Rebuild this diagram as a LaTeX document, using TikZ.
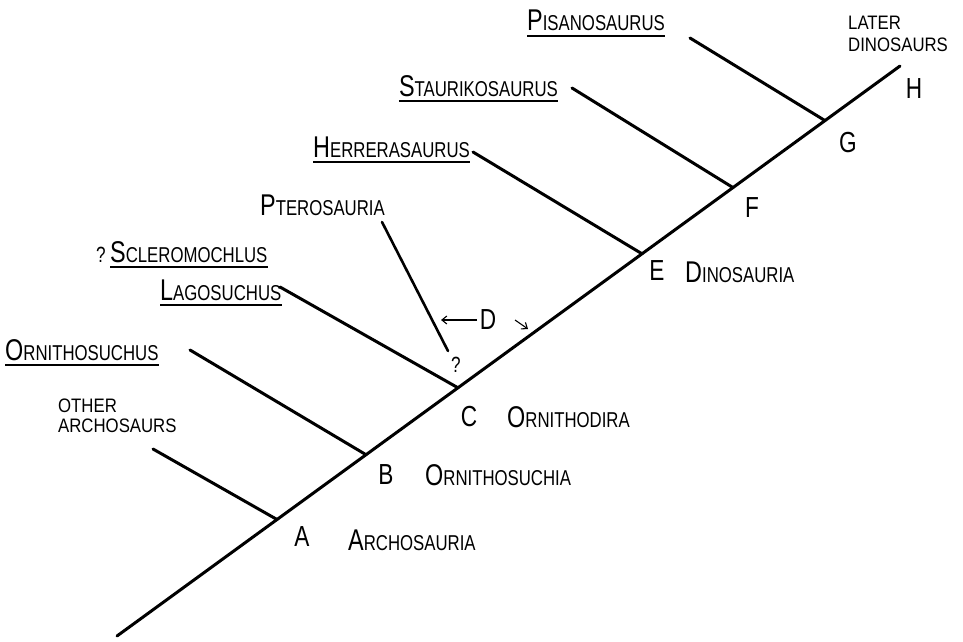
\documentclass[tikz,border=0pt]{standalone}
\usepackage{fontspec}
\setmainfont{Liberation Sans}[FakeStretch=0.78]
\newfontfamily\plainfont{Liberation Sans}[FakeStretch=0.86]
\usetikzlibrary{arrows.meta}

% small-capital lettering: large initial, smaller remainder
\newcommand\capsz[2]{{\fontsize{30}{30}\selectfont #1}{\fontsize{21.5}{21.5}\selectfont #2}}

\tikzset{
  stem/.style={line width=3pt, line cap=round},
  lbl/.style={inner sep=0pt, anchor=base west},
  lble/.style={inner sep=0pt, anchor=base east},
  plain/.style={inner sep=0pt, anchor=base west, font=\plainfont\fontsize{19.5}{19.5}\selectfont},
  letter/.style={inner sep=0pt, font=\fontsize{29}{29}\selectfont},
  ul/.style={line width=1.2pt},
  pointer/.style={line width=1.1pt, -{Straight Barb[length=5pt,width=8pt]}},
}

\begin{document}
\begin{tikzpicture}[x=1pt,y=-1pt]
\useasboundingbox (0,0) rectangle (963,642);

% main stem of the cladogram
\coordinate (root) at (117,636);
\coordinate (tip) at (900,66);
\coordinate (jA) at (277,519.5);
\coordinate (jB) at (366,454.7);
\coordinate (jC) at (458,387.8);
\coordinate (jE) at (642,253.8);
\coordinate (jF) at (733,187.6);
\coordinate (jG) at (825,120.6);
\draw[stem] (root) -- (tip);

% side branches
\coordinate (bA) at (153,449);
\coordinate (bB) at (190,350);
\coordinate (bC) at (280,287);
\coordinate (bE) at (473,152);
\coordinate (bF) at (572,88);
\coordinate (bG) at (690,38);
\draw[stem] (jA) -- (bA);
\draw[stem] (jB) -- (bB);
\draw[stem] (jC) -- (bC);
\draw[stem] (jE) -- (bE);
\draw[stem] (jF) -- (bF);
\draw[stem] (jG) -- (bG);

% Pterosauria, uncertain attachment
\coordinate (pTop) at (382,222);
\coordinate (pEnd) at (448,351);
\draw[stem, line width=2.6pt] (pTop) -- (pEnd);
\node[letter, font=\fontsize{22}{22}\selectfont] (qP) at (456,365) {?};

% node letters
\node[letter] (lA) at (302,537) {A};
\node[letter] (lB) at (386,475) {B};
\node[letter] (lC) at (469,417) {C};
\node[letter] (lE) at (657,271) {E};
\node[letter] (lF) at (752,208) {F};
\node[letter] (lG) at (848,143) {G};
\node[letter] (lH) at (914,89) {H};
\node[letter] (lD) at (488,320) {D};

% node D range marks
\coordinate (dTail) at (477,320);
\coordinate (dTip) at (441,320);
\draw[pointer] (dTail) -- (dTip);
\coordinate (sTail) at (515,320);
\coordinate (sTip) at (528,329);
\draw[pointer] (sTail) -- (sTip);

% clade names
\node[lbl] (nA) at (348,550) {\capsz{A}{RCHOSAURIA}};
\node[lbl] (nB) at (425,485) {\capsz{O}{RNITHOSUCHIA}};
\node[lbl] (nC) at (507,427) {\capsz{O}{RNITHODIRA}};
\node[lbl] (nE) at (685,282) {\capsz{D}{INOSAURIA}};

% taxa at branch tips
\node[plain] (oth1) at (58,412) {OTHER};
\node[plain] (oth2) at (58,432) {ARCHOSAURS};
\node[plain] (lat1) at (848,30) {LATER};
\node[plain] (lat2) at (848,52) {DINOSAURS};

\node[lbl] (tOrn) at (5,360) {\capsz{O}{RNITHOSUCHUS}};
\node[lbl] (tLag) at (160,300) {\capsz{L}{AGOSUCHUS}};
\node[lbl, font=\fontsize{22}{22}\selectfont] (qS) at (96,262) {?};
\node[lbl] (tScl) at (110,262) {\capsz{S}{CLEROMOCHLUS}};
\node[lble] (tPte) at (385,215) {\capsz{P}{TEROSAURIA}};
\node[lbl] (tHer) at (313,157) {\capsz{H}{ERRERASAURUS}};
\node[lble] (tSta) at (558,96) {\capsz{S}{TAURIKOSAURUS}};
\node[lbl] (tPis) at (527,31) {\capsz{P}{ISANOSAURUS}};

% underlines of genus names
\foreach \n in {tOrn,tLag,tScl,tHer,tSta,tPis}
  \draw[ul] ([yshift=-5pt]\n.base west) -- ([yshift=-5pt]\n.base east);
\end{tikzpicture}
\end{document}
